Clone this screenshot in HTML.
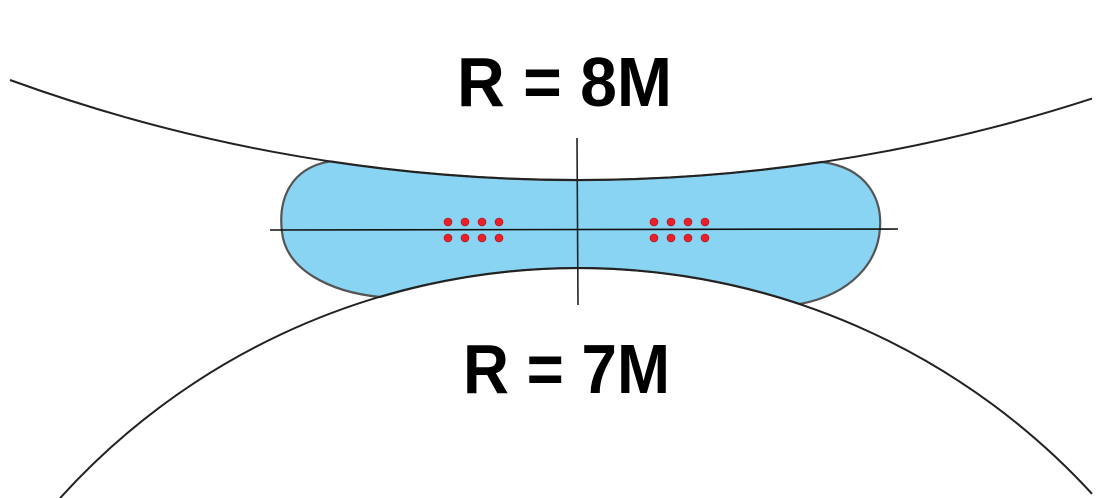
<!DOCTYPE html>
<html><head><meta charset="utf-8"><style>
html,body{margin:0;padding:0;background:#fff;}
svg{display:block;}
</style></head><body>
<svg width="1100" height="498" viewBox="0 0 1100 498" xmlns="http://www.w3.org/2000/svg">
<rect width="1100" height="498" fill="#fff"/>
<path d="M330,161.4 A1663,1663 0 0 0 822,162 C868,168 882,200 880,228 C878,262 852,294 800,304 A698,698 0 0 0 380,297 C330,292 286,270 282,232 C278,200 290,168 330,161.4 Z" fill="#89d4f2" stroke="#555" stroke-width="2.2"/>
<path d="M10,80 A1663,1663 0 0 0 1092,98.6" fill="none" stroke="#222" stroke-width="2"/>
<path d="M60,498.2 A698,698 0 0 1 1092,493.8" fill="none" stroke="#222" stroke-width="2"/>
<line x1="270" y1="230" x2="898" y2="229" stroke="#111" stroke-width="1.6"/>
<line x1="577" y1="138" x2="578" y2="305" stroke="#222" stroke-width="1.6"/>
<g fill="#e8202a" stroke="#a01018" stroke-width="0.6">
<circle cx="448" cy="222" r="4"/><circle cx="465" cy="222" r="4"/><circle cx="482" cy="222" r="4"/><circle cx="499" cy="222" r="4"/>
<circle cx="448" cy="238" r="4"/><circle cx="465" cy="238" r="4"/><circle cx="482" cy="238" r="4"/><circle cx="499" cy="238" r="4"/>
<circle cx="654" cy="222" r="4"/><circle cx="671" cy="222" r="4"/><circle cx="688" cy="222" r="4"/><circle cx="705" cy="222" r="4"/>
<circle cx="654" cy="238" r="4"/><circle cx="671" cy="238" r="4"/><circle cx="688" cy="238" r="4"/><circle cx="705" cy="238" r="4"/>
</g>
<text x="457" y="106" font-family="Liberation Sans, sans-serif" font-size="70" font-weight="bold" textLength="215" lengthAdjust="spacingAndGlyphs" fill="#000">R = 8M</text>
<text x="463" y="393" font-family="Liberation Sans, sans-serif" font-size="70" font-weight="bold" textLength="207" lengthAdjust="spacingAndGlyphs" fill="#000">R = 7M</text>
</svg>
</body></html>
